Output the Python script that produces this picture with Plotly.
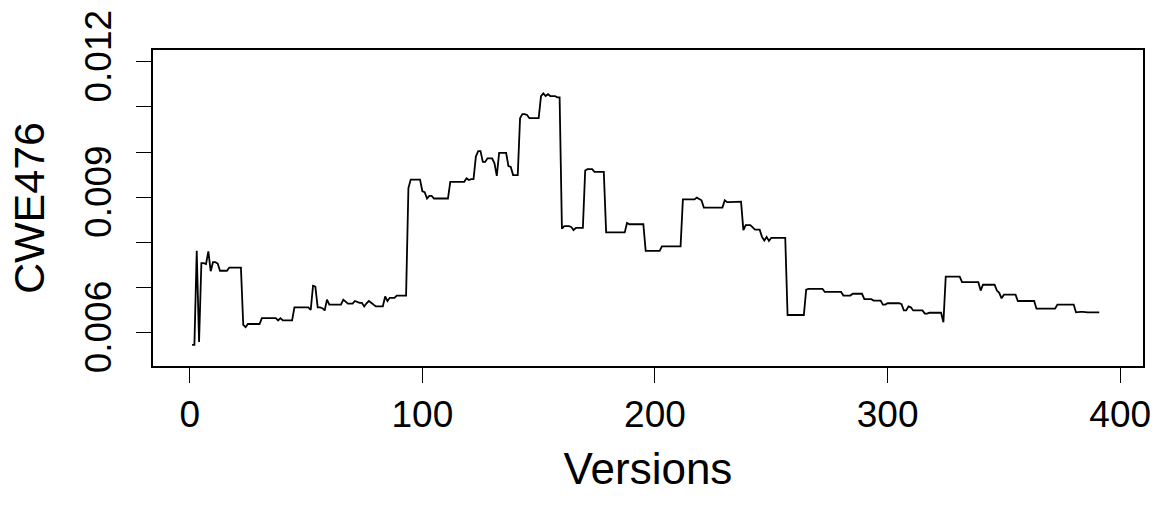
import numpy as np
import plotly.graph_objects as go

# Run-length description of the series:
# version at which a level starts, and that level's CWE476 value.
seg_start = [1, 3, 4, 5, 7, 8, 9, 10, 12, 13, 17, 23, 24, 25, 31, 38, 39, 40, 45, 52,
             53, 54, 55, 57, 58, 59, 60, 66, 67, 68, 71, 72, 73, 75, 76, 77, 78, 79, 80, 84,
             85, 86, 89, 94, 95, 100, 101, 102, 103, 105, 112, 119, 120, 121, 123, 124, 126, 128, 131, 132,
             133, 137, 138, 139, 142, 143, 145, 146, 151, 152, 153, 154, 155, 158, 160, 161, 164, 165, 166, 170,
             171, 174, 179, 188, 189, 196, 203, 212, 218, 219, 220, 221, 230, 231, 236, 238, 239, 242, 243, 246,
             247, 248, 249, 250, 257, 265, 266, 273, 281, 285, 290, 294, 298, 300, 306, 307, 309, 310, 311, 316,
             318, 324, 325, 332, 340, 341, 347, 348, 349, 350, 356, 364, 373, 381, 382, 385]
seg_value = [0.00573, 0.00781, 0.00579, 0.00754, 0.00752, 0.00780, 0.00736, 0.00756, 0.00753, 0.00737, 0.00744, 0.00617, 0.00612, 0.00619, 0.00632, 0.00627, 0.00632, 0.00627, 0.00656, 0.00650,
             0.00704, 0.00702, 0.00656, 0.00654, 0.00649, 0.00673, 0.00662, 0.00673, 0.00668, 0.00664, 0.00670, 0.00668, 0.00666, 0.00658, 0.00665, 0.00670, 0.00666, 0.00662, 0.00658, 0.00680,
             0.00670, 0.00677, 0.00682, 0.00920, 0.00939, 0.00913, 0.00911, 0.00897, 0.00903, 0.00897, 0.00934, 0.00942, 0.00938, 0.00940, 0.00990, 0.01002, 0.00978, 0.00986, 0.00975, 0.00947,
             0.00998, 0.00969, 0.00967, 0.00949, 0.01075, 0.01084, 0.01082, 0.01075, 0.01124, 0.01130, 0.01124, 0.01128, 0.01124, 0.01121, 0.00830, 0.00836, 0.00834, 0.00827, 0.00832, 0.00959,
             0.00962, 0.00956, 0.00822, 0.00843, 0.00840, 0.00781, 0.00791, 0.00895, 0.00899, 0.00895, 0.00893, 0.00877, 0.00893, 0.00889, 0.00890, 0.00827, 0.00838, 0.00833, 0.00828, 0.00812,
             0.00804, 0.00812, 0.00803, 0.00810, 0.00639, 0.00695, 0.00697, 0.00690, 0.00682, 0.00686, 0.00674, 0.00671, 0.00662, 0.00665, 0.00663, 0.00649, 0.00658, 0.00656, 0.00649, 0.00642,
             0.00644, 0.00623, 0.00724, 0.00712, 0.00693, 0.00706, 0.00693, 0.00688, 0.00676, 0.00684, 0.00670, 0.00653, 0.00662, 0.00645, 0.00646, 0.00645]
n_versions = 391

x_ticks = [0, 100, 200, 300, 400]
y_ticks = [0.006, 0.007, 0.008, 0.009, 0.010, 0.011, 0.012]
y_tick_text = ["0.006", "", "", "0.009", "", "", "0.012"]

versions = np.arange(1, n_versions + 1)
lengths = np.diff(seg_start + [n_versions + 1])
values = np.repeat(seg_value, lengths)

font = "Liberation Sans, Arial, sans-serif"

fig = go.Figure(go.Scatter(x=versions, y=values, mode="lines",
                           line=dict(color="black", width=1.8), showlegend=False))

axis_common = dict(showgrid=False, zeroline=False, showline=True, linecolor="black",
                   linewidth=1.5, mirror=True, ticks="outside", ticklen=15, tickwidth=1.2,
                   tickcolor="black", tickfont=dict(family=font, size=37, color="black"),
                   automargin=False)

fig.update_layout(
    width=1156, height=506,
    margin=dict(l=153, r=13, t=50, b=140),
    paper_bgcolor="white", plot_bgcolor="white",
    xaxis=dict(range=[-15.8, 409.8], tickvals=x_ticks,
               title=dict(text="Versions", font=dict(family=font, size=44, color="black"), standoff=19),
               **axis_common),
    yaxis=dict(range=[0.00526, 0.01226], tickvals=y_ticks, ticktext=y_tick_text, tickangle=-90,
               ticklabelstandoff=10,
               title=dict(text="CWE476", font=dict(family=font, size=43, color="black"), standoff=20),
               **axis_common),
)

fig.write_html("out.html", config={"displayModeBar": False},
               post_script="document.body.style.margin='0';document.body.style.overflow='hidden';")
